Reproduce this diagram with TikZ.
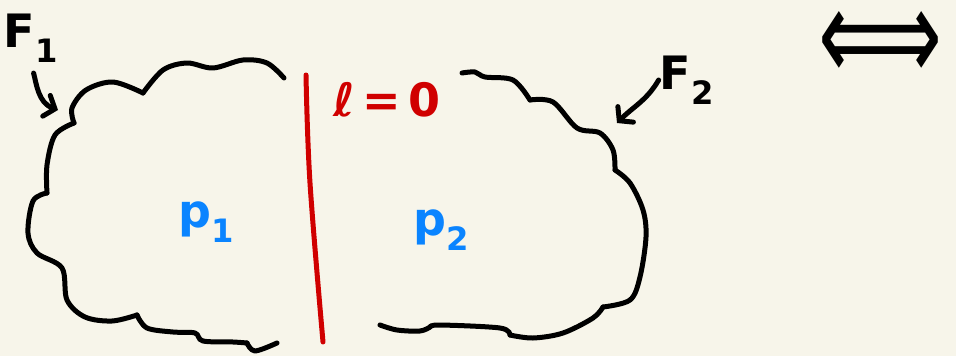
\documentclass[tikz,border=0pt]{standalone}
\usepackage{fontspec}
\setmainfont{DejaVu Sans}
\usepackage{xcolor}
\usetikzlibrary{arrows.meta,positioning}
\definecolor{paper}{HTML}{F7F5EA}
\definecolor{ink}{HTML}{000000}
\definecolor{cut}{HTML}{D00000}
\definecolor{mom}{HTML}{0A84FF}
\tikzset{
  pen/.style={ink,line width=5pt,line cap=round,line join=round},
  arr/.style={pen,-{Straight Barb[length=9pt,width=22pt,line cap=round]}},
  lbl/.style={inner sep=1pt,font=\fontsize{46}{46}\selectfont\bfseries}
}
\begin{document}
\begin{tikzpicture}[x=1pt,y=-1pt]
\fill[paper] (0,0) rectangle (956,356);
\useasboundingbox (0,0) rectangle (956,356);
% left blob
\draw[pen] plot[smooth,tension=0.55] coordinates {
  (284,78) (267,63) (243,60) (213,68) (187,63) (163,70) (143,93)};
\draw[pen] plot[smooth,tension=0.55] coordinates {
  (143,93) (113,82) (86,90) (72,108) (74,123)};
\draw[pen] plot[smooth,tension=0.55] coordinates {
  (74,123) (55,135) (47,165) (47,193)};
\draw[pen] plot[smooth,tension=0.55] coordinates {
  (47,193) (33,201) (28,233) (37,253) (62,268) (67,300) (85,317) (112,321) (137,315)};
\draw[pen] plot[smooth,tension=0.55] coordinates {
  (137,315) (147,328) (173,332) (195,333) (203,341) (233,342) (247,343)};
\draw[pen] plot[smooth,tension=0.55] coordinates {
  (247,343) (255,351) (277,343)};
% right blob
\draw[pen] plot[smooth,tension=0.55] coordinates {
  (462,73) (475,72) (485,77) (513,80) (530,100)};
\draw[pen] plot[smooth,tension=0.55] coordinates {
  (530,100) (553,102) (577,128) (600,133) (613,150) (615,170)};
\draw[pen] plot[smooth,tension=0.55] coordinates {
  (615,170) (630,183) (643,210) (646,237) (640,277) (630,300) (603,307)};
\draw[pen] plot[smooth,tension=0.55] coordinates {
  (603,307) (593,318) (563,333) (533,338) (510,335)};
\draw[pen] plot[smooth,tension=0.55] coordinates {
  (510,335) (500,328) (440,325) (430,327)};
\draw[pen] plot[smooth,tension=0.55] coordinates {
  (430,327) (420,331) (397,330) (380,325)};
% cut
\draw[pen,cut] plot[smooth,tension=0.6] coordinates {(306,75) (310,183) (323,342)};
% labels
\node[lbl] (f1) at (31,38) {F\textsubscript{1}};
\node[lbl] (f2) at (687,80) {F\textsubscript{2}};
\node[lbl,mom] (p1) at (206,222) {p\textsubscript{1}};
\node[lbl,mom] (p2) at (441,230) {p\textsubscript{2}};
\node[lbl,cut] (cond) at (387,100) {ℓ\,=\,0};
\node[inner sep=0pt] (equiv) at (880,46) {\resizebox{124pt}{70pt}{⟺}};
\coordinate (f1tip) at (58,110);
\coordinate (f2tip) at (617,123);
\draw[arr,shorten <=10pt] (f1.south) to[out=-75,in=160] (f1tip);
\draw[arr] (f2.west) to[out=-120,in=45] (f2tip);
\end{tikzpicture}
\end{document}
